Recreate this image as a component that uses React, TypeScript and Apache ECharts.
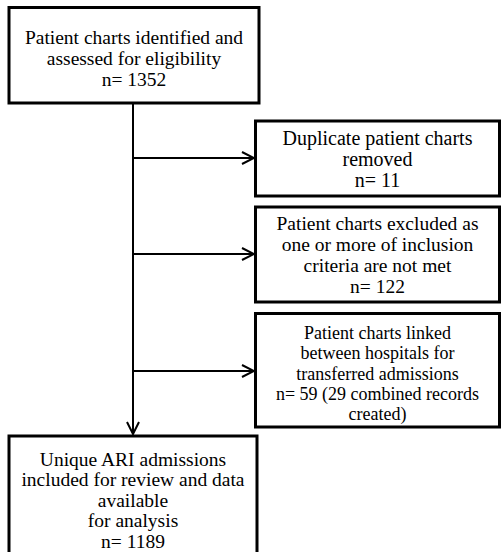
import React, { useEffect, useRef } from "react";
import * as echarts from "echarts";

// Box texts (one entry per box, one string per line)
const mainTexts: string[][] = [
  ["Patient charts identified and", "assessed for eligibility", "n= 1352"],
  ["Unique ARI admissions", "included for review and data", "available", "for analysis", "n= 1189"],
];
const sideTexts: string[][] = [
  ["Duplicate patient charts", "removed", "n= 11"],
  ["Patient charts excluded as", "one or more of inclusion", "criteria are not met", "n= 122"],
  ["Patient charts linked", "between hospitals for", "transferred admissions", "n= 59 (29 combined records", "created)"],
];

export default function App() {
  const ref = useRef<HTMLDivElement>(null);
  useEffect(() => {
    if (!ref.current) return;
    const chart = echarts.init(ref.current, null, { renderer: "svg" });

    const mainBoxes = [
      { x: 9, y: 7.5, w: 250, h: 95.5, cy: 58, fs: 19.5, lh: 21 },
      { x: 9, y: 436, w: 248, h: 122, cy: 499.5, fs: 19.5, lh: 20.5 },
    ];
    const sideBoxes = [
      { x: 255.5, y: 121, w: 244, h: 75, cy: 159, fs: 20, lh: 21 },
      { x: 255.5, y: 207, w: 244, h: 95, cy: 254.5, fs: 19.5, lh: 20.7 },
      { x: 255.5, y: 313.5, w: 244, h: 113.5, cy: 373.5, fs: 18, lh: 20.3 },
    ];
    const arrowYs = [158, 254, 371];
    const trunkX = 133;

    const elements: any[] = [];
    const addBox = (b: any, lines: string[]) => {
      elements.push({
        type: "rect",
        shape: { x: b.x, y: b.y, width: b.w, height: b.h },
        style: { fill: "#fff", stroke: "#000", lineWidth: 3 },
      });
      const n = lines.length;
      lines.forEach((t, i) => {
        elements.push({
          type: "text",
          style: {
            text: t,
            x: b.x + b.w / 2,
            y: Math.round(b.cy + (i - (n - 1) / 2) * b.lh),
            align: "center",
            verticalAlign: "middle",
            fontFamily: "Liberation Serif",
            fontSize: b.fs,
            fill: "#000",
          },
        });
      });
    };

    // trunk line
    elements.push({
      type: "line",
      shape: { x1: trunkX, y1: 103, x2: trunkX, y2: 434 },
      style: { stroke: "#000", lineWidth: 2 },
    });
    elements.push({
      type: "polyline",
      shape: { points: [[trunkX - 6, 422], [trunkX, 434], [trunkX + 6, 422]] },
      style: { stroke: "#000", lineWidth: 2, fill: "none" },
    });
    arrowYs.forEach((y) => {
      elements.push({
        type: "line",
        shape: { x1: trunkX, y1: y, x2: 254, y2: y },
        style: { stroke: "#000", lineWidth: 2 },
      });
      elements.push({
        type: "polyline",
        shape: { points: [[242, y - 6], [254, y], [242, y + 6]] },
        style: { stroke: "#000", lineWidth: 2, fill: "none" },
      });
    });

    mainBoxes.forEach((b, i) => addBox(b, mainTexts[i]));
    sideBoxes.forEach((b, i) => addBox(b, sideTexts[i]));

    chart.setOption({
      animation: false,
      backgroundColor: "#fff",
      graphic: { elements },
    });
    return () => chart.dispose();
  }, []);
  return (
    <div
      ref={ref}
      style={{ position: "fixed", left: 0, top: 0, width: 502, height: 552 }}
    />
  );
}
